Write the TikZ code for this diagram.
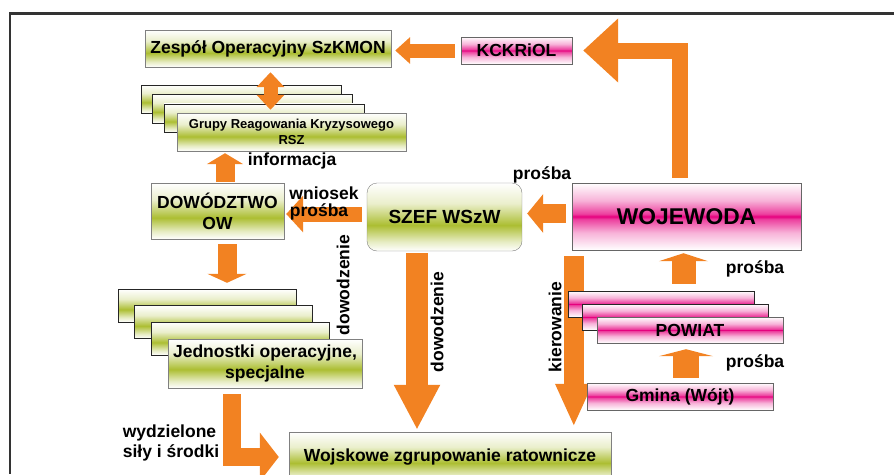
\documentclass[tikz,border=0pt]{standalone}
\usepackage{fontspec}
\setmainfont{Liberation Sans}
\usetikzlibrary{arrows.meta}
\definecolor{orangeArrow}{RGB}{242,130,34}
\definecolor{greenBar}{RGB}{172,190,50}
\definecolor{pinkBar}{RGB}{230,0,126}
\pgfdeclareverticalshading{greenShade}{100bp}{color(0bp)=(white); color(25bp)=(white); color(32bp)=(greenBar!30); color(44bp)=(greenBar); color(60bp)=(greenBar!25); color(75bp)=(white); color(100bp)=(white)}
\pgfdeclareverticalshading{pinkShade}{100bp}{color(0bp)=(white); color(25bp)=(white); color(38bp)=(pinkBar!30); color(48bp)=(pinkBar!75); color(50bp)=(pinkBar); color(52bp)=(pinkBar!75); color(62bp)=(pinkBar!30); color(75bp)=(white); color(100bp)=(white)}

\begin{document}
\begin{tikzpicture}[x=1pt, y=-1pt, font=\fontsize{17.5}{21}\selectfont\bfseries]
	\tikzstyle{greenStyle}=[draw=black!50, shading=greenShade, align=center, inner sep=0pt]
	\tikzstyle{pinkStyle}=[draw=black!60, shading=pinkShade, align=center, inner sep=0pt]
	\tikzstyle{backStyle}=[draw=black!85]
	\tikzstyle{arrowStyle}=[draw=orangeArrow]
	\tikzstyle{textStyle}=[inner sep=0pt, align=left]
	\useasboundingbox (0,0) rectangle (894,474);
	\clip (0,0) rectangle (894,474);
	\draw[line width=2.5pt, black!80] (894,13.5) -- (10,13.5) -- (10,474);
	\node[greenStyle, minimum width=246pt, minimum height=37pt] (zespol) at (268,48.5) {Zespół Operacyjny SzKMON};
	\node[pinkStyle, minimum width=111pt, minimum height=27pt] (kckriol) at (516.5,50.5) {KCKRiOL};
	\foreach \i in {0,1,2}
		\node[greenStyle, backStyle, minimum width=200pt, minimum height=28.5pt] (grb\i) at (241+11.5*\i, 99+9.6*\i) {};
	\node[greenStyle, minimum width=229pt, minimum height=38pt, font=\fontsize{13}{16.5}\selectfont\bfseries] (grupy) at (291.5,132) {Grupy Reagowania Kryzysowego\\RSZ};
	\node[greenStyle, minimum width=133pt, minimum height=56pt] (dowodztwo) at (217.5,211) {DOWÓDZTWO\\OW};
	\node[greenStyle, rounded corners=10pt, minimum width=155pt, minimum height=68pt, font=\fontsize{19}{21}\selectfont\bfseries] (szef) at (444.5,217) {SZEF WSzW};
	\node[pinkStyle, minimum width=229pt, minimum height=67pt, font=\fontsize{22.8}{25}\selectfont\bfseries] (wojewoda) at (686.5,216.5) {WOJEWODA};
	\foreach \i in {0,1,2}
		\node[greenStyle, backStyle, minimum width=178pt, minimum height=33pt] (jdb\i) at (207+16.5*\i, 305.5+16.5*\i) {};
	\node[greenStyle, minimum width=194pt, minimum height=49pt] (jednostki) at (265,363.5) {Jednostki operacyjne,\\specjalne};
	\node[greenStyle, minimum width=322pt, minimum height=50pt] (wojskowe) at (450,457) {Wojskowe zgrupowanie ratownicze};
	\draw[arrowStyle, line width=20pt, -{Triangle[width=34pt, length=43pt]}, shorten <=6pt, shorten >=5pt] ([xshift=2pt]wojewoda.south west) -- ([xshift=2pt]wojewoda.south west |- wojskowe.north);
	\foreach \i in {0,1}
		\node[pinkStyle, backStyle, minimum width=186pt, minimum height=26pt] (pwb\i) at (661+14.5*\i, 304+13*\i) {};
	\node[pinkStyle, minimum width=186pt, minimum height=26pt] (powiat) at (690,330) {POWIAT};
	\node[pinkStyle, minimum width=186pt, minimum height=27pt] (gmina) at (680,396.5) {Gmina (Wójt)};
	\draw[arrowStyle, line width=14pt, -{Triangle[width=26pt, length=15pt]}, shorten <=6pt, shorten >=4pt] (kckriol.west) -- (kckriol.west -| zespol.east);
	\draw[arrowStyle, line width=16pt, -{Triangle[width=62pt, length=35pt]}, shorten <=5pt, shorten >=11pt] ([xshift=-6.5pt]wojewoda.north) |- (kckriol.east);
	\draw[arrowStyle, line width=14pt, {Triangle[width=27pt, length=15pt]}-{Triangle[width=27pt, length=15pt]}, shorten <=5pt, shorten >=3pt] ([xshift=2.5pt]zespol.south) -- ([xshift=2.5pt]zespol.south |- grupy.north);
	\draw[arrowStyle, line width=19pt, -{Triangle[width=36pt, length=11pt]}, shorten <=1pt, shorten >=2pt] ([xshift=7.5pt]dowodztwo.north) -- ([xshift=7.5pt]dowodztwo.north |- grupy.south);
	\draw[arrowStyle, line width=15pt, -{Triangle[width=36pt, length=17pt]}, shorten <=5pt, shorten >=2pt] ([yshift=3pt]szef.west) -- ([yshift=3pt]szef.west -| dowodztwo.east);
	\draw[arrowStyle, line width=19pt, -{Triangle[width=38pt, length=16pt]}, shorten <=6pt, shorten >=5pt] ([yshift=3pt]wojewoda.west) -- ([yshift=3pt]wojewoda.west -| szef.east);
	\draw[arrowStyle, line width=19pt, -{Triangle[width=39pt, length=9pt]}, shorten <=5pt, shorten >=6pt] ([xshift=9.5pt]dowodztwo.south) -- ([xshift=9.5pt]dowodztwo.south |- jdb0.north);
	\draw[arrowStyle, line width=22pt, -{Triangle[width=43pt, length=45pt]}, shorten <=2pt, shorten >=2pt] ([xshift=-27.5pt]szef.south) -- ([xshift=-27.5pt]szef.south |- wojskowe.north);
	\draw[arrowStyle, line width=24pt, -{Triangle[width=49pt, length=8pt]}, shorten <=7pt, shorten >=3pt] ([xshift=-3pt]wojewoda.south |- pwb0.north) -- ([xshift=-3pt]wojewoda.south);
	\draw[arrowStyle, line width=26pt, -{Triangle[width=54pt, length=7pt]}, shorten <=5pt, shorten >=6pt] ([xshift=6pt]gmina.north) -- ([xshift=6pt]gmina.north |- powiat.south);
	\draw[arrowStyle, line width=18pt, -{Triangle[width=48pt, length=19pt]}, shorten <=6pt, shorten >=10pt] ([xshift=-33pt]jednostki.south) |- (wojskowe.west);
	\node[textStyle] (informacja) at (292,161) {informacja};
	\node[textStyle] (wniosek) at (324,193) {wniosek};
	\node[textStyle] (prosbaA) at (319,212) {prośba};
	\node[textStyle] (prosbaB) at (542,175) {prośba};
	\node[textStyle] (prosbaC) at (755,269) {prośba};
	\node[textStyle] (prosbaD) at (755,363) {prośba};
	\node[textStyle, rotate=90] (dowodzenieA) at (343,285) {dowodzenie};
	\node[textStyle, rotate=90] (dowodzenieB) at (437,322) {dowodzenie};
	\node[textStyle, rotate=90] (kierowanie) at (555,327) {kierowanie};
	\node[textStyle, font=\fontsize{17.5}{19.5}\selectfont\bfseries] (wydzielone) at (171,443) {wydzielone\\siły i środki};
\end{tikzpicture}
\end{document}
